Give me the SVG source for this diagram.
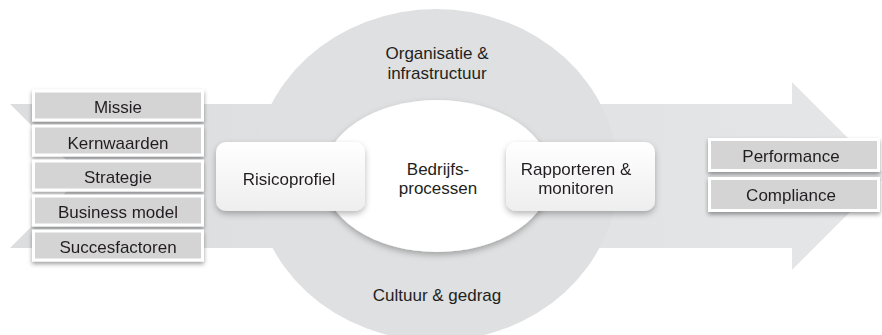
<svg xmlns="http://www.w3.org/2000/svg" width="882" height="335" viewBox="0 0 882 335">
  <defs>
    <filter id="shadow" x="-10%" y="-20%" width="120%" height="160%">
      <feDropShadow dx="0" dy="2.5" stdDeviation="2" flood-color="#000" flood-opacity="0.38"/>
    </filter>
    <filter id="softShadow" x="-10%" y="-10%" width="120%" height="130%">
      <feDropShadow dx="0" dy="3" stdDeviation="3" flood-color="#000" flood-opacity="0.28"/>
    </filter>
    <linearGradient id="cardFill" x1="0" y1="0" x2="0" y2="1">
      <stop offset="0" stop-color="#ffffff"/>
      <stop offset="1" stop-color="#eeeeef"/>
    </linearGradient>
    <linearGradient id="arrowFill" x1="0" y1="0" x2="1" y2="0">
      <stop offset="0" stop-color="#dcdddf"/>
      <stop offset="1" stop-color="#e5e6e7"/>
    </linearGradient>
  </defs>
  <style>
    text { font-family: "Liberation Sans", Arial, Helvetica, sans-serif; font-size: 17px; fill: #231f20; text-anchor: middle; }
    .tag rect { fill: #d4d4d5; stroke: #ffffff; stroke-width: 3; }
    .card { fill: url(#cardFill); }
  </style>

  <rect width="882" height="335" fill="#ffffff"/>

  <!-- main process arrow -->
  <g id="arrow">
    <polygon points="10,104 792,104 792,82 886,176 792,270 792,248 10,248 82,176" fill="url(#arrowFill)"/>
  </g>

  <!-- outer ring: organisation and culture -->
  <g id="ring">
    <ellipse cx="436" cy="175" rx="182" ry="166" fill="#dfe0e1"/>
    <text x="437" y="59">Organisatie &amp;</text>
    <text x="437" y="79">infrastructuur</text>
    <text x="437" y="301">Cultuur &amp; gedrag</text>
  </g>

  <!-- core: business processes -->
  <g id="core">
    <ellipse cx="437" cy="176" rx="114" ry="76" fill="#ffffff" filter="url(#softShadow)"/>
    <text x="438" y="175">Bedrijfs-</text>
    <text x="438" y="194">processen</text>
  </g>

  <g id="risicoprofiel" filter="url(#softShadow)">
    <rect class="card" x="216" y="142" width="149" height="69" rx="10"/>
    <text x="289" y="185">Risicoprofiel</text>
  </g>

  <g id="rapporteren" filter="url(#softShadow)">
    <rect class="card" x="506" y="142" width="149" height="69" rx="10"/>
    <text x="576" y="175">Rapporteren &amp;</text>
    <text x="576" y="194">monitoren</text>
  </g>

  <!-- inputs -->
  <g id="missie" class="tag" filter="url(#shadow)">
    <rect x="33.5" y="91" width="169" height="29"/>
    <text x="118" y="113">Missie</text>
  </g>
  <g id="kernwaarden" class="tag" filter="url(#shadow)">
    <rect x="33.5" y="126" width="169" height="29"/>
    <text x="118" y="148.5">Kernwaarden</text>
  </g>
  <g id="strategie" class="tag" filter="url(#shadow)">
    <rect x="33.5" y="161" width="169" height="29"/>
    <text x="118" y="183">Strategie</text>
  </g>
  <g id="business-model" class="tag" filter="url(#shadow)">
    <rect x="33.5" y="196" width="169" height="29"/>
    <text x="118" y="218">Business model</text>
  </g>
  <g id="succesfactoren" class="tag" filter="url(#shadow)">
    <rect x="33.5" y="231" width="169" height="29"/>
    <text x="118" y="253">Succesfactoren</text>
  </g>

  <!-- outcomes -->
  <g id="performance" class="tag" filter="url(#shadow)">
    <rect x="709.5" y="139.5" width="169" height="31"/>
    <text x="791" y="162">Performance</text>
  </g>
  <g id="compliance" class="tag" filter="url(#shadow)">
    <rect x="709.5" y="178.5" width="169" height="32"/>
    <text x="791" y="201">Compliance</text>
  </g>

  <g id="connectors"></g>
</svg>
